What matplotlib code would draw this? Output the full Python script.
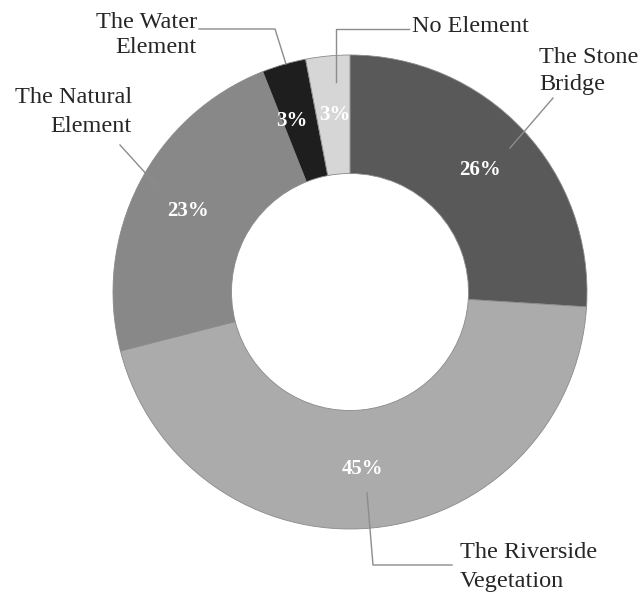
import matplotlib
matplotlib.use("Agg")
import matplotlib.pyplot as plt
import numpy as np

categories = ["The Stone Bridge", "The Riverside Vegetation", "The Natural Element",
              "The Water Element", "No Element"]
shares = [26, 45, 23, 3, 3]
pct_labels = ["26%", "45%", "23%", "3%", "3%"]
colors = ["#595959", "#ababab", "#888888", "#1e1e1e", "#d6d6d6"]

W, H = 642, 593
fig = plt.figure(figsize=(W / 100, H / 100), dpi=100)
ax = fig.add_axes([0, 0, 1, 1])

cx, cy = 350, H - 292
R = 237
ring = 0.5

wedges, _ = ax.pie(shares, colors=colors, startangle=90, counterclock=False,
                   radius=R, center=(cx, cy), frame=True,
                   wedgeprops=dict(width=R * ring, edgecolor="#8a8a8a", linewidth=0.6))
ax.set_xlim(0, W)
ax.set_ylim(0, H)
ax.set_aspect("equal")
ax.axis("off")

serif = "Liberation Serif"
# percentage labels in the middle of the ring
r_mid = R * (1 - ring / 2)
offsets = [(0, 0), (-4, 0), (-4, 0), (-9, 0), (2, 0)]
for w, lab, (dx, dy) in zip(wedges, pct_labels, offsets):
    ang = np.deg2rad((w.theta1 + w.theta2) / 2)
    x = cx + r_mid * np.cos(ang) + dx
    y = cy + r_mid * np.sin(ang) + dy
    ax.text(x, y, lab, color="white", fontsize=15, fontweight="bold",
            family=serif, ha="center", va="center")


def P(x, y):
    return (x, H - y)


line_kw = dict(color="#8c8c8c", lw=1.0)
fs = 17.5
txt_col = "#262626"

# The Water Element
xs, ys = zip(*[P(199, 29), P(275, 29), P(286, 64)])
ax.plot(xs, ys, **line_kw)
ax.text(*P(197, 35), "The Water\nElement", ha="right", va="center", fontsize=fs,
        family=serif, color=txt_col, linespacing=1.3)

# No Element
xs, ys = zip(*[P(409, 29), P(336, 29), P(336, 82)])
ax.plot(xs, ys, **line_kw)
ax.text(*P(412, 27), "No Element", ha="left", va="center", fontsize=fs,
        family=serif, color=txt_col)

# The Stone Bridge
xs, ys = zip(*[P(553, 98), P(510, 148)])
ax.plot(xs, ys, **line_kw)
ax.text(*P(539, 71), "The Stone\nBridge", ha="left", va="center", fontsize=fs,
        family=serif, color=txt_col, linespacing=1.35)

# The Natural Element
xs, ys = zip(*[P(120, 145), P(159, 188)])
ax.plot(xs, ys, **line_kw)
ax.text(*P(132, 112), "The Natural\nElement", ha="right", va="center", fontsize=fs,
        family=serif, color=txt_col, linespacing=1.45)

# The Riverside Vegetation
xs, ys = zip(*[P(367, 493), P(373, 565), P(452, 565)])
ax.plot(xs, ys, **line_kw)
ax.text(*P(460, 567), "The Riverside\nVegetation", ha="left", va="center", fontsize=fs,
        family=serif, color=txt_col, linespacing=1.45)

fig.savefig("out.png", dpi=100)
